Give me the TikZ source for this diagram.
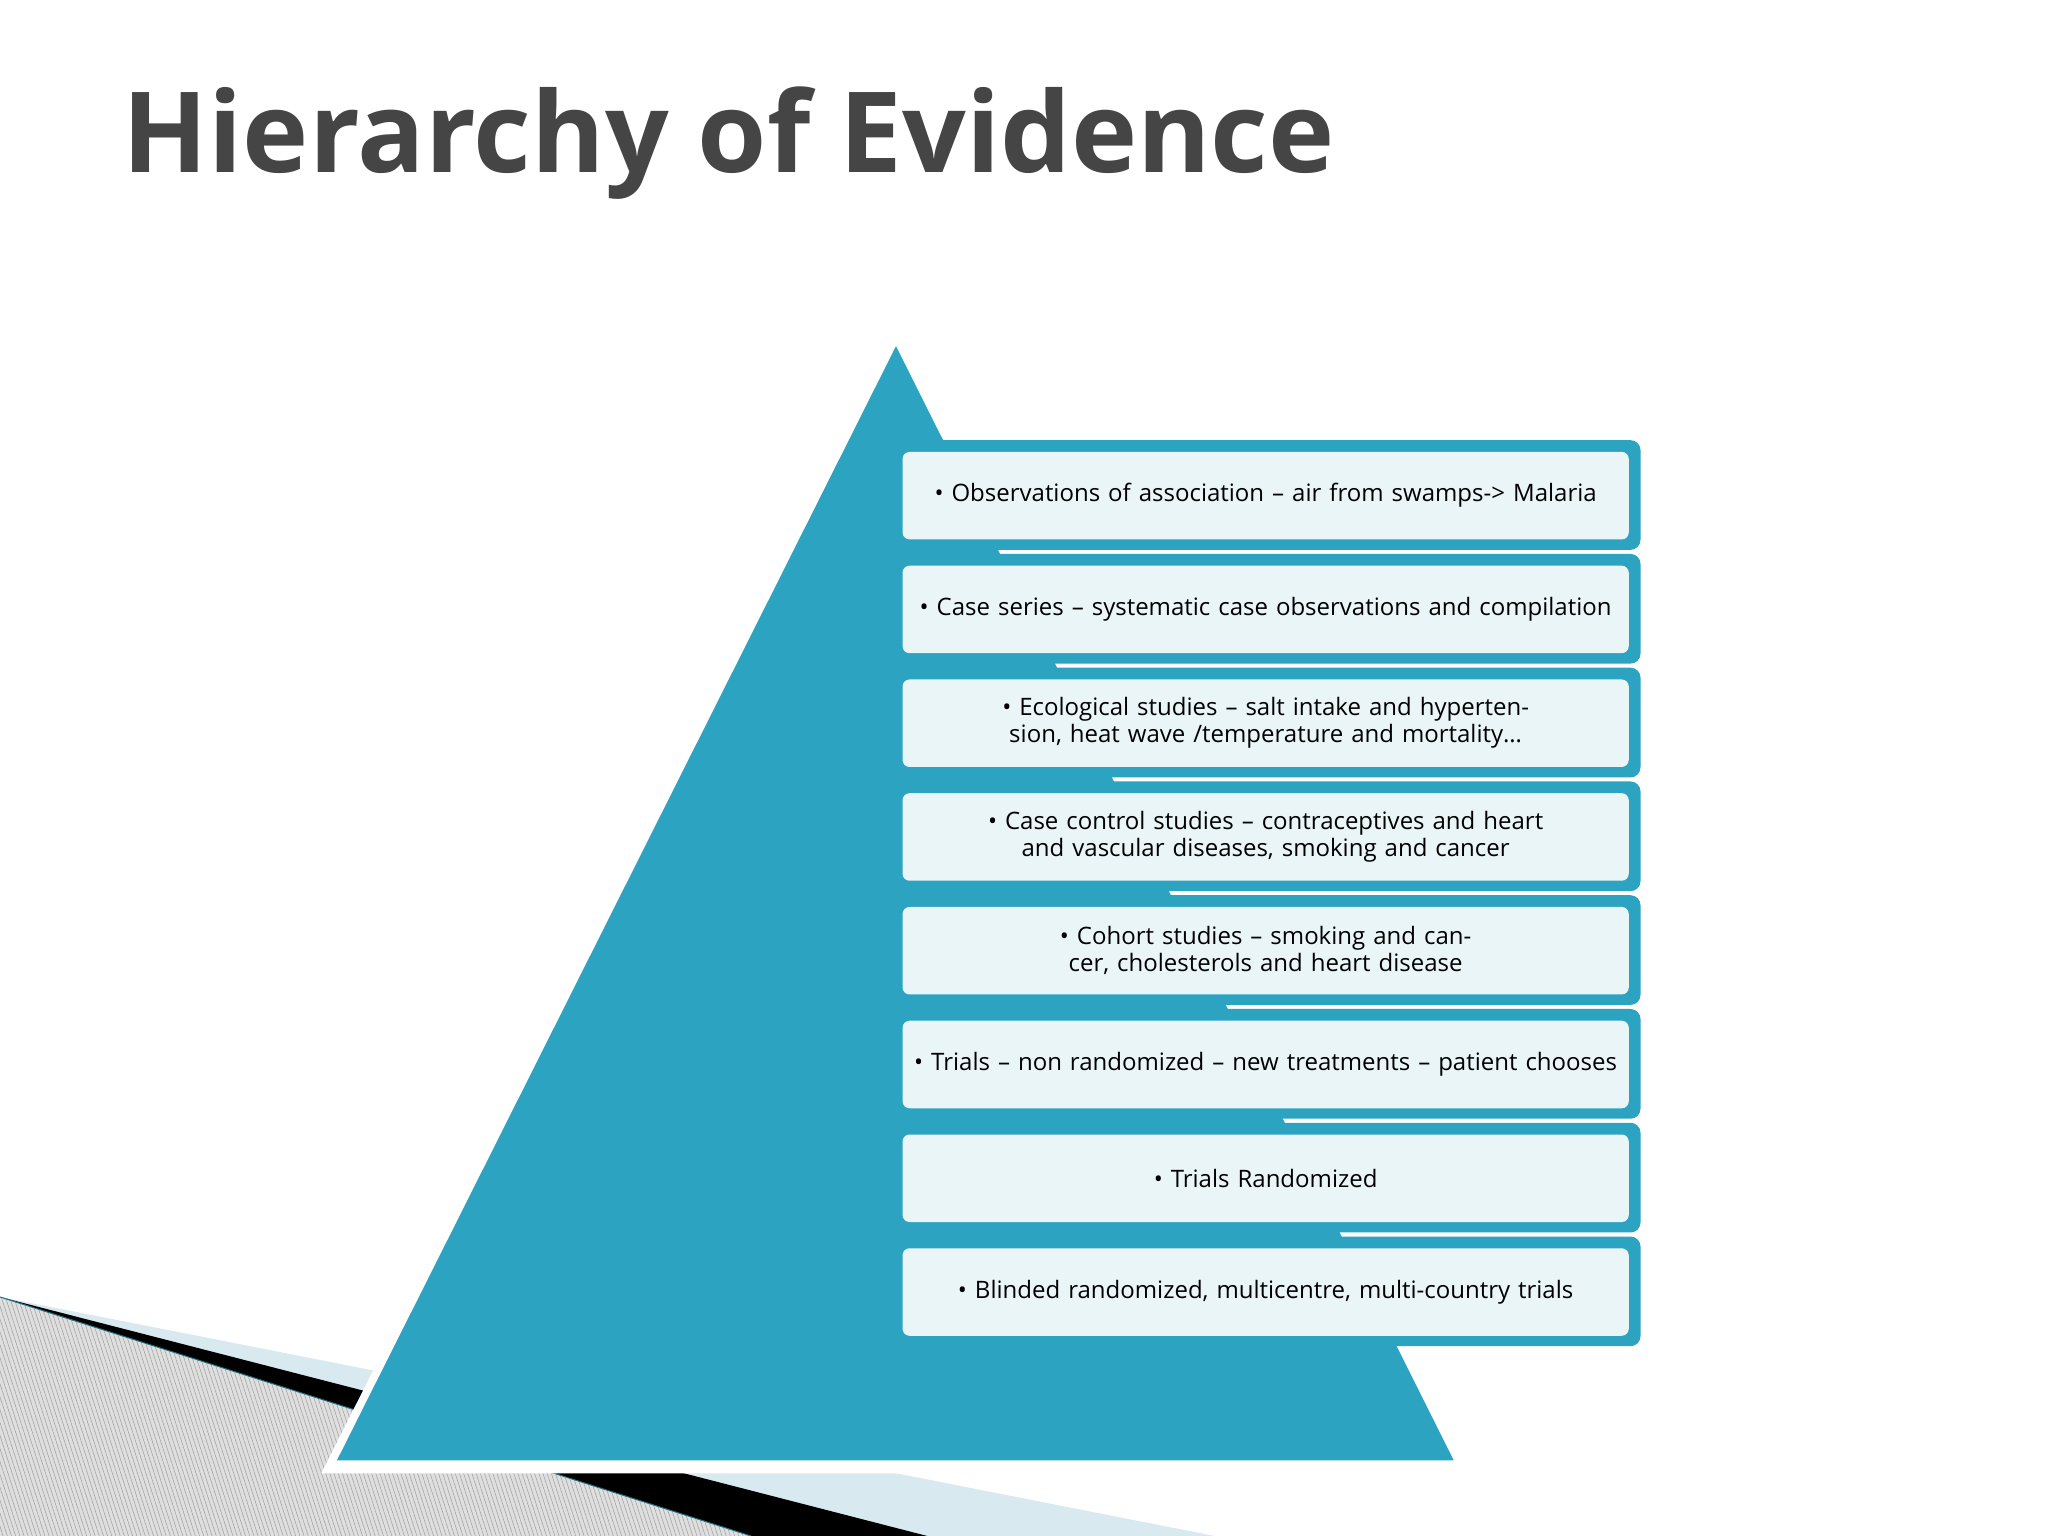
\documentclass[tikz,border=0pt]{standalone}
\usepackage{fontspec}
\setmainfont{Open Sans}
\definecolor{teal}{HTML}{2CA3C0}
\definecolor{lblue}{HTML}{D8E9F0}
\definecolor{titlegray}{HTML}{454545}
\begin{document}
\begin{tikzpicture}[x=1.30612pt,y=-1.30612pt,
  plate/.style={fill=teal,rounded corners=10pt},
  card/.style={fill=white,fill opacity=0.9,text opacity=1,rounded corners=7pt,
    minimum width=556*1.30612pt,minimum height=67*1.30612pt,text width=540*1.30612pt,
    align=center,font=\fontsize{24pt}{27pt}\selectfont,inner sep=0pt}]
\useasboundingbox (0,0) rectangle (1568,1176);
\fill[white] (0,0) rectangle (1568,1176);
% bottom-left decoration
\fill[lblue] (0,993) -- (930,1176) -- (0,1176) -- cycle;
\fill[black] (0,993) -- (710,1176) -- (0,1176) -- cycle;
\begin{scope}
\clip (0,993) -- (575,1176) -- (0,1176) -- cycle;
\fill[gray!25] (0,990) rectangle (600,1176);
\foreach \i in {-60,...,200} {\draw[gray!70,line width=0.6pt] (\i*3.2,990) -- (\i*3.2+60,1176);}
\end{scope}
\draw[teal!70!black,line width=1pt] (0,993) -- (575,1176);
% pyramid
\fill[white] (686,255) -- (246,1128) -- (1120,1128) -- cycle;
\fill[teal] (686,265) -- (258,1118) -- (1113,1118) -- cycle;
% title
\node[anchor=base west,inner sep=0pt,font=\fontsize{112pt}{112pt}\bfseries\selectfont,text=titlegray] (title) at (94,132) {Hierarchy of Evidence};
% boxes
\foreach \k/\t in {0/{• Observations of association – air from swamps-> Malaria},
  1/{• Case series – systematic case observations and compilation},
  2/{• Ecological studies – salt intake and hypertension, heat wave /temperature and mortality…},
  3/{• Case control studies – contraceptives and heart and vascular diseases, smoking and cancer},
  4/{• Cohort studies – smoking and cancer, cholesterols and heart disease},
  5/{• Trials – non randomized – new treatments – patient chooses},
  6/{• Trials Randomized},
  7/{• Blinded randomized, multicentre, multi-country trials}} {
  \pgfmathsetmacro{\yt}{346+87.1*\k}
  \fill[plate] (693,\yt-9) rectangle (1256,\yt+75);
  \node[card] (b\k) at (969,\yt+33.5) {\t};
}
\end{tikzpicture}
\end{document}
